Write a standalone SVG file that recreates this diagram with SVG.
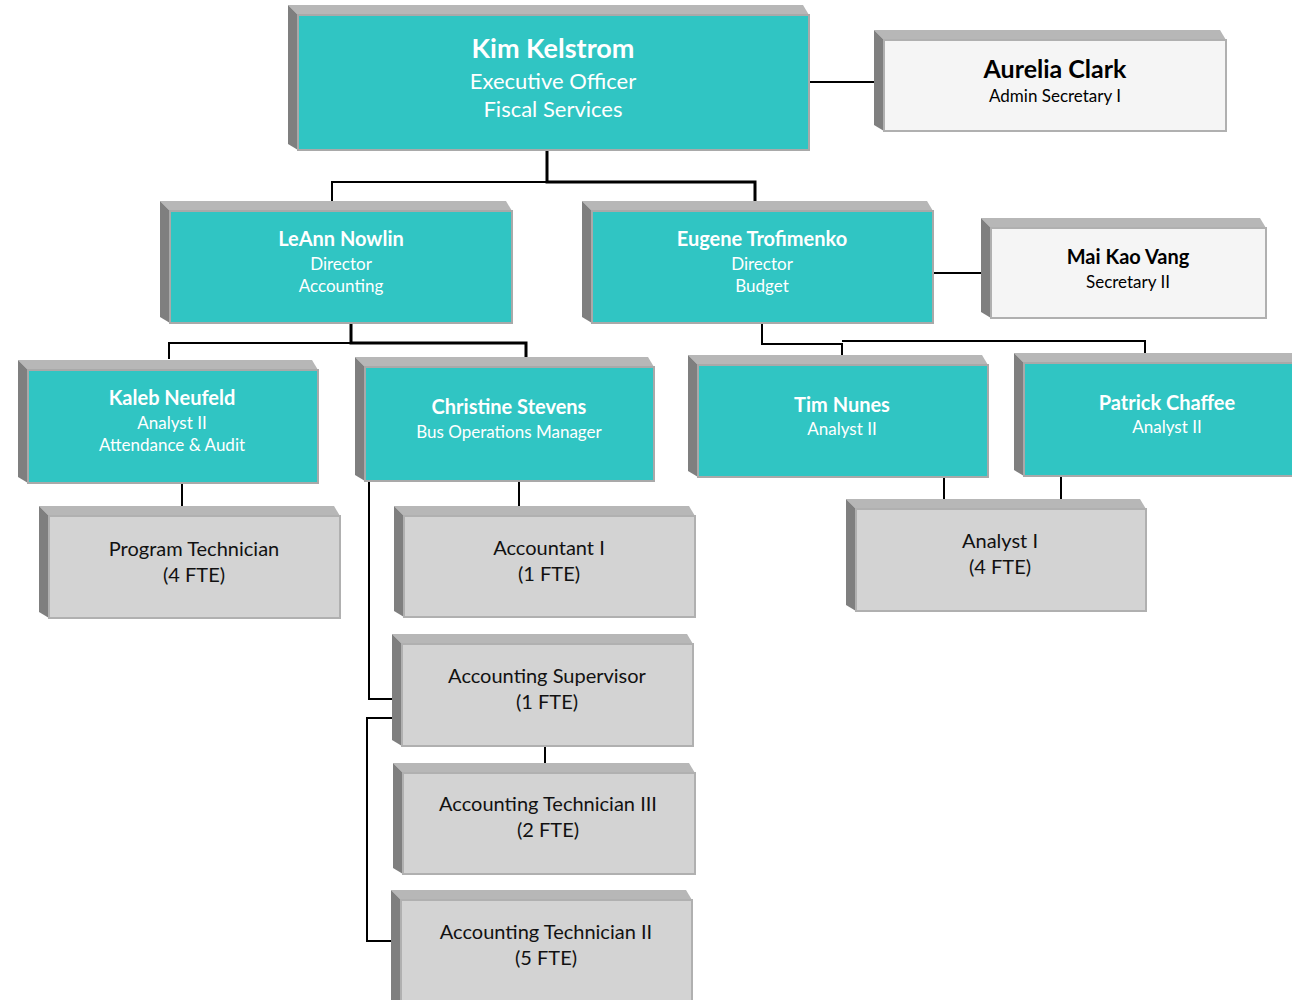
<svg xmlns="http://www.w3.org/2000/svg" width="1292" height="1000" viewBox="0 0 1292 1000">
<style>
.tb{fill:#b7b7b7}
.lb{fill:#7f7f7f}
.teal{fill:#30c5c3;stroke:#a9a9a9;stroke-width:2}
.gray{fill:#d3d3d3;stroke:#b0b0b0;stroke-width:2}
.white{fill:#f5f5f5;stroke:#b0b0b0;stroke-width:2}
text{font-family:Lato,"Liberation Sans",sans-serif;text-anchor:middle}
.wn{fill:#fff;font-weight:bold;font-size:20px}
.ws{fill:#fff;font-size:17px}
.bn{fill:#000;font-weight:bold;font-size:20px}
.bs{fill:#000;font-size:17px}
.gt{fill:#111;font-size:20px}
.c{fill:none;stroke:#000;stroke-width:2}
.ck{fill:none;stroke:#000;stroke-width:3}
</style>
<rect width="1292" height="1000" fill="#fff"/>
<g id="connectors">
<path class="ck" d="M547 150V182H755V201"/>
<path class="c" d="M547 182H332V201"/>
<path class="c" d="M809 82H874"/>
<path class="ck" d="M351 323V343H526V357"/>
<path class="c" d="M351 343H169V359"/>
<path class="c" d="M933 273H981"/>
<path class="c" d="M762 323V344H842V355M842 341H1145V353"/>
<path class="c" d="M182 483V506"/>
<path class="c" d="M519 476V506"/>
<path class="c" d="M369 481V699H393"/>
<path class="c" d="M393 718H367V941H392"/>
<path class="c" d="M545 746V763"/>
<path class="c" d="M944 477V499"/>
<path class="c" d="M1061 476V499"/>
</g>
<g id="kim">
<polygon class="tb" points="288,5 803,5 809,15 298,15"/>
<polygon class="lb" points="288,5 298,15 298,150 288,144"/>
<rect class="teal" x="298" y="15" width="511" height="135"/>
<text x="553" y="58" fill="#fff" font-weight="bold" font-size="27">Kim Kelstrom</text>
<text x="553" y="89" fill="#fff" font-size="22">Executive Officer</text>
<text x="553" y="117" fill="#fff" font-size="22">Fiscal Services</text>
</g>
<g id="aurelia">
<polygon class="tb" points="874,30 1220,30 1226,40 884,40"/>
<polygon class="lb" points="874,30 884,40 884,131 874,125"/>
<rect class="white" x="884" y="40" width="342" height="91"/>
<text x="1055" y="78" fill="#000" font-weight="bold" font-size="25">Aurelia Clark</text>
<text class="bs" x="1055" y="102" font-size="18">Admin Secretary I</text>
</g>
<g id="leann">
<polygon class="tb" points="160,201 506,201 512,211 170,211"/>
<polygon class="lb" points="160,201 170,211 170,323 160,317"/>
<rect class="teal" x="170" y="211" width="342" height="112"/>
<text class="wn" x="341" y="246">LeAnn Nowlin</text>
<text class="ws" x="341" y="270">Director</text>
<text class="ws" x="341" y="292">Accounting</text>
</g>
<g id="eugene">
<polygon class="tb" points="582,201 927,201 933,211 592,211"/>
<polygon class="lb" points="582,201 592,211 592,323 582,317"/>
<rect class="teal" x="592" y="211" width="341" height="112"/>
<text class="wn" x="762" y="246">Eugene Trofimenko</text>
<text class="ws" x="762" y="270">Director</text>
<text class="ws" x="762" y="292">Budget</text>
</g>
<g id="maikao">
<polygon class="tb" points="981,218 1260,218 1266,228 991,228"/>
<polygon class="lb" points="981,218 991,228 991,318 981,312"/>
<rect class="white" x="991" y="228" width="275" height="90"/>
<text class="bn" x="1128" y="264">Mai Kao Vang</text>
<text class="bs" x="1128" y="288">Secretary II</text>
</g>
<g id="kaleb">
<polygon class="tb" points="18,360 312,360 318,370 28,370"/>
<polygon class="lb" points="18,360 28,370 28,483 18,477"/>
<rect class="teal" x="28" y="370" width="290" height="113"/>
<text class="wn" x="172" y="405">Kaleb Neufeld</text>
<text class="ws" x="172" y="429">Analyst II</text>
<text class="ws" x="172" y="451">Attendance &amp; Audit</text>
</g>
<g id="christine">
<polygon class="tb" points="355,357 648,357 654,367 365,367"/>
<polygon class="lb" points="355,357 365,367 365,481 355,475"/>
<rect class="teal" x="365" y="367" width="289" height="114"/>
<text class="wn" x="509" y="414">Christine Stevens</text>
<text class="ws" x="509" y="438">Bus Operations Manager</text>
</g>
<g id="tim">
<polygon class="tb" points="688,355 982,355 988,365 698,365"/>
<polygon class="lb" points="688,355 698,365 698,477 688,471"/>
<rect class="teal" x="698" y="365" width="290" height="112"/>
<text class="wn" x="842" y="412">Tim Nunes</text>
<text class="ws" x="842" y="435">Analyst II</text>
</g>
<g id="patrick">
<polygon class="tb" points="1014,353 1300,353 1300,363 1024,363"/>
<polygon class="lb" points="1014,353 1024,363 1024,476 1014,470"/>
<rect class="teal" x="1024" y="363" width="280" height="113"/>
<text class="wn" x="1167" y="410">Patrick Chaffee</text>
<text class="ws" x="1167" y="433">Analyst II</text>
</g>
<g id="progtech">
<polygon class="tb" points="39,506 334,506 340,516 49,516"/>
<polygon class="lb" points="39,506 49,516 49,618 39,612"/>
<rect class="gray" x="49" y="516" width="291" height="102"/>
<text class="gt" x="194" y="556">Program Technician</text>
<text class="gt" x="194" y="582">(4 FTE)</text>
</g>
<g id="accountant1">
<polygon class="tb" points="394,506 689,506 695,516 404,516"/>
<polygon class="lb" points="394,506 404,516 404,617 394,611"/>
<rect class="gray" x="404" y="516" width="291" height="101"/>
<text class="gt" x="549" y="555">Accountant I</text>
<text class="gt" x="549" y="581">(1 FTE)</text>
</g>
<g id="accsup">
<polygon class="tb" points="392,634 687,634 693,644 402,644"/>
<polygon class="lb" points="392,634 402,644 402,746 392,740"/>
<rect class="gray" x="402" y="644" width="291" height="102"/>
<text class="gt" x="547" y="683">Accounting Supervisor</text>
<text class="gt" x="547" y="709">(1 FTE)</text>
</g>
<g id="acctech3">
<polygon class="tb" points="393,763 689,763 695,773 403,773"/>
<polygon class="lb" points="393,763 403,773 403,874 393,868"/>
<rect class="gray" x="403" y="773" width="292" height="101"/>
<text class="gt" x="548" y="811">Accounting Technician III</text>
<text class="gt" x="548" y="837">(2 FTE)</text>
</g>
<g id="acctech2">
<polygon class="tb" points="391,890 686,890 692,900 401,900"/>
<polygon class="lb" points="391,890 401,900 401,1005 391,1000"/>
<rect class="gray" x="401" y="900" width="291" height="110"/>
<text class="gt" x="546" y="939">Accounting Technician II</text>
<text class="gt" x="546" y="965">(5 FTE)</text>
</g>
<g id="analyst1">
<polygon class="tb" points="846,499 1140,499 1146,509 856,509"/>
<polygon class="lb" points="846,499 856,509 856,611 846,605"/>
<rect class="gray" x="856" y="509" width="290" height="102"/>
<text class="gt" x="1000" y="548">Analyst I</text>
<text class="gt" x="1000" y="574">(4 FTE)</text>
</g>
</svg>
